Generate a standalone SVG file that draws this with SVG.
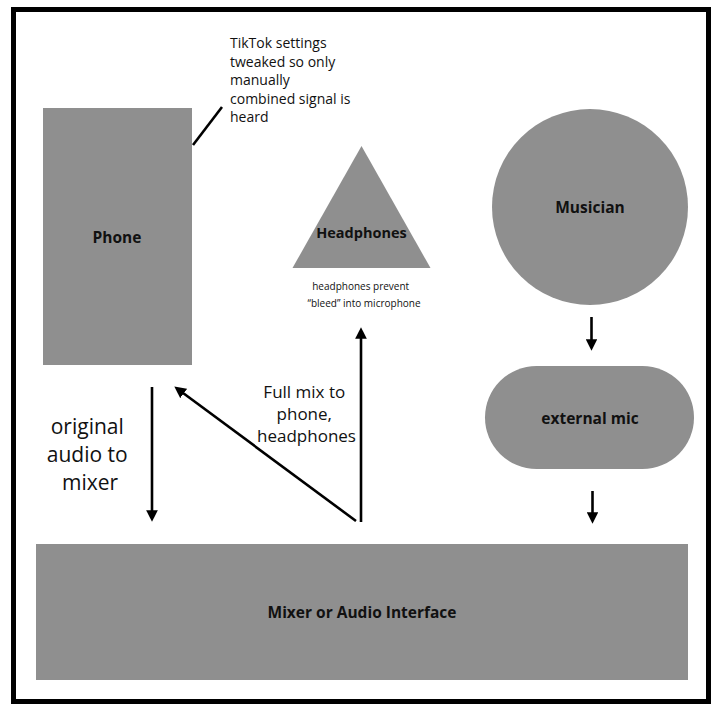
<svg xmlns="http://www.w3.org/2000/svg" width="716" height="704" viewBox="0 0 716 704">
<defs>
<style>
.shape{fill:#8f8f8f}
.lbl{font-family:"Open Sans","Liberation Sans",sans-serif;font-weight:bold;fill:#111;text-anchor:middle;dominant-baseline:central}
.txt{font-family:"Open Sans","Liberation Sans",sans-serif;fill:#111}
.conn{stroke:#000;stroke-width:2.6;fill:none}
</style>
<marker id="ah" viewBox="0 0 10 10" refX="5" refY="5" markerWidth="4.5" markerHeight="4.5" orient="auto-start-reverse" markerUnits="strokeWidth">
<path d="M0,0 L10,5 L0,10 Z" fill="#000"/>
</marker>
</defs>
<rect x="0" y="0" width="716" height="704" fill="#fff"/>
<rect x="13.5" y="9.5" width="695" height="692" fill="#fff" stroke="#000" stroke-width="5"/>

<g id="phone">
<rect class="shape" x="43" y="108" width="149" height="257"/>
<text class="lbl" x="117" y="237" font-size="15.5">Phone</text>
</g>
<g id="note-tiktok">
<text class="txt" font-size="14">
<tspan x="230" y="48">TikTok settings</tspan>
<tspan x="230" y="66.5">tweaked so only</tspan>
<tspan x="230" y="85">manually</tspan>
<tspan x="230" y="103.5">combined signal is</tspan>
<tspan x="230" y="122">heard</tspan>
</text>
</g>
<g id="headphones">
<polygon class="shape" points="361.5,146 292.5,268 430.5,268"/>
<text class="lbl" x="361.5" y="232" font-size="14.5">Headphones</text>
<text class="txt" font-size="10" text-anchor="middle">
<tspan x="362" y="289.5">headphones prevent</tspan>
<tspan x="364" y="307">“bleed” into microphone</tspan>
</text>
</g>
<g id="musician">
<circle class="shape" cx="590" cy="207" r="98"/>
<text class="lbl" x="590" y="207" font-size="15.5">Musician</text>
</g>
<g id="external-mic">
<rect class="shape" x="485" y="366" width="209" height="103" rx="51.5" ry="51.5"/>
<text class="lbl" x="590" y="418" font-size="15.5">external mic</text>
</g>
<g id="mixer">
<rect class="shape" x="36" y="544" width="652" height="136"/>
<text class="lbl" x="362" y="612" font-size="15.5">Mixer or Audio Interface</text>
</g>

<g id="connectors">
<line class="conn" x1="193" y1="145" x2="222" y2="107"/>
<line class="conn" x1="591.5" y1="317" x2="591.5" y2="345" marker-end="url(#ah)"/>
<line class="conn" x1="592.5" y1="491" x2="592.5" y2="518" marker-end="url(#ah)"/>
<line class="conn" x1="152" y1="387" x2="152" y2="516" marker-end="url(#ah)"/>
<line class="conn" x1="356" y1="521" x2="179" y2="390" marker-end="url(#ah)"/>
<line class="conn" x1="361" y1="522" x2="361" y2="333" marker-end="url(#ah)"/>
<text class="txt" font-size="21" text-anchor="middle">
<tspan x="90" y="434">original</tspan>
<tspan x="90" y="462">audio to</tspan>
<tspan x="90" y="490">mixer</tspan>
</text>
<text class="txt" font-size="17" text-anchor="middle">
<tspan x="306.5" y="398">Full mix to</tspan>
<tspan x="306.5" y="420">phone,</tspan>
<tspan x="306.5" y="442">headphones</tspan>
</text>
</g>
</svg>
